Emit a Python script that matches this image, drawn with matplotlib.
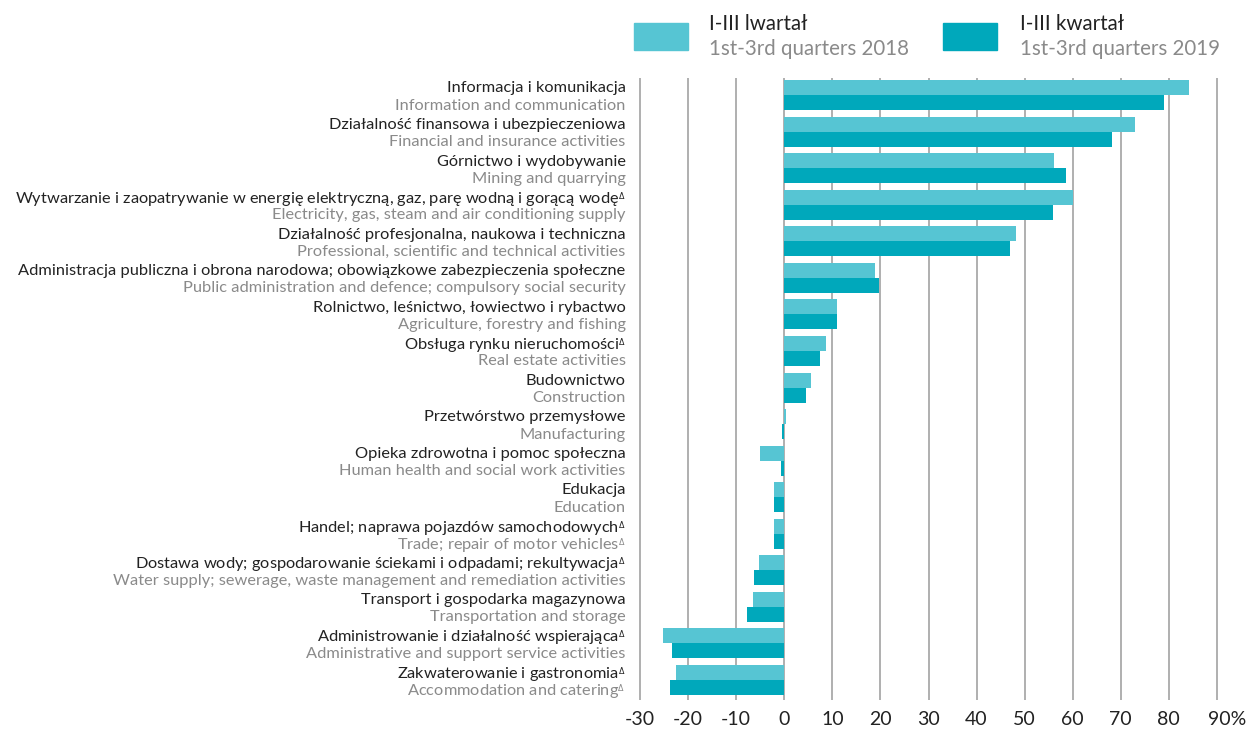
import matplotlib.pyplot as plt
import matplotlib.transforms as mtransforms
from matplotlib.patches import Rectangle
import numpy as np

plt.rcParams['font.family'] = ['Lato', 'DejaVu Sans']

D = '$^{_{\\Delta}}$'  # small triangle mark used in the source

# sections, Polish and English names (top to bottom)
labels_pl = [
    'Informacja i komunikacja',
    'Działalność finansowa i ubezpieczeniowa',
    'Górnictwo i wydobywanie',
    'Wytwarzanie i zaopatrywanie w energię elektryczną, gaz, parę wodną i gorącą wodę' + D,
    'Działalność profesjonalna, naukowa i techniczna',
    'Administracja publiczna i obrona narodowa; obowiązkowe zabezpieczenia społeczne',
    'Rolnictwo, leśnictwo, łowiectwo i rybactwo',
    'Obsługa rynku nieruchomości' + D,
    'Budownictwo',
    'Przetwórstwo przemysłowe',
    'Opieka zdrowotna i pomoc społeczna',
    'Edukacja',
    'Handel; naprawa pojazdów samochodowych' + D,
    'Dostawa wody; gospodarowanie ściekami i odpadami; rekultywacja' + D,
    'Transport i gospodarka magazynowa',
    'Administrowanie i działalność wspierająca' + D,
    'Zakwaterowanie i gastronomia' + D,
]
labels_en = [
    'Information and communication',
    'Financial and insurance activities',
    'Mining and quarrying',
    'Electricity, gas, steam and air conditioning supply',
    'Professional, scientific and technical activities',
    'Public administration and defence; compulsory social security',
    'Agriculture, forestry and fishing',
    'Real estate activities',
    'Construction',
    'Manufacturing',
    'Human health and social work activities',
    'Education',
    'Trade; repair of motor vehicles' + D,
    'Water supply; sewerage, waste management and remediation activities',
    'Transportation and storage',
    'Administrative and support service activities',
    'Accommodation and catering' + D,
]

# % change
vals_2018 = [84.1, 73.0, 56.2, 60.0, 48.3, 18.9, 11.0, 8.7, 5.6, 0.4, -5.0, -2.1, -2.1, -5.2, -6.6, -25.3, -22.6]
vals_2019 = [78.9, 68.2, 58.7, 56.0, 47.0, 19.6, 11.0, 7.4, 4.5, -0.4, -0.7, -2.1, -2.2, -6.2, -7.8, -23.4, -23.8]

xticks = [-30, -20, -10, 0, 10, 20, 30, 40, 50, 60, 70, 80, 90]

c2018 = '#56c5d3'
c2019 = '#00a8bb'

fig = plt.figure(figsize=(12.5, 7.3), dpi=100)
ax = fig.add_axes([0.5082, 0.0411, 0.4692, 0.8521])

y = np.arange(len(labels_pl))
h = 0.41
ax.barh(y - h / 2, vals_2018, height=h, color=c2018, zorder=2)
ax.barh(y + h / 2, vals_2019, height=h, color=c2019, zorder=2)

ax.set_xlim(-31, 91)
ax.set_ylim(16.55, -0.47)
ax.set_xticks(xticks)
ax.set_xticklabels([str(t) for t in xticks[:-1]] + ['90%'], fontsize=14, color='#222222')
ax.grid(axis='x', color='#9a9a9a', lw=1.1, zorder=0)
ax.set_axisbelow(True)

# two-line labels: Polish next to 2018 bar, English next to 2019 bar
ypos = np.concatenate([y - 0.225, y + 0.245])
ylabs = labels_pl + labels_en
ax.set_yticks(ypos)
ax.set_yticklabels(ylabs, fontsize=11.8)
for i, t in enumerate(ax.get_yticklabels()):
    t.set_color('#222222' if i < len(labels_pl) else '#8a8a8a')

ax.tick_params(axis='both', length=0)
ax.tick_params(axis='y', pad=7)
ax.tick_params(axis='x', pad=8)
for s in ax.spines.values():
    s.set_visible(False)

# shift "90%" so that "90" sits on its gridline
lab = ax.get_xticklabels()[-1]
lab.set_transform(lab.get_transform() + mtransforms.ScaledTranslation(10 / 100, 0, fig.dpi_scale_trans))

# legend
fig.patches.append(Rectangle((634 / 1250, 1 - 50 / 730), 54 / 1250, 27 / 730, color=c2018, transform=fig.transFigure))
fig.patches.append(Rectangle((943 / 1250, 1 - 50 / 730), 54 / 1250, 27 / 730, color=c2019, transform=fig.transFigure))
fig.text(709 / 1250, 1 - 24 / 730, 'I-III lwartał', fontsize=14.8, color='#222222', va='center')
fig.text(709 / 1250, 1 - 49 / 730, '1st-3rd quarters 2018', fontsize=14.8, color='#8a8a8a', va='center')
fig.text(1020 / 1250, 1 - 24 / 730, 'I-III kwartał', fontsize=14.8, color='#222222', va='center')
fig.text(1020 / 1250, 1 - 49 / 730, '1st-3rd quarters 2019', fontsize=14.8, color='#8a8a8a', va='center')

fig.savefig('out.png', dpi=100)
